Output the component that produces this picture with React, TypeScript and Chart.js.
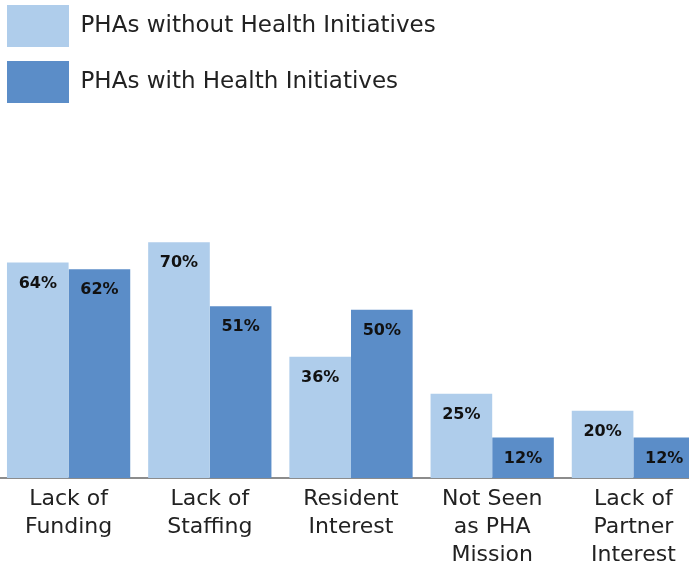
import React, { useEffect, useRef } from "react";
import { Chart, registerables } from "chart.js";

Chart.register(...registerables);

const categories: string[][] = [
  ["Lack of", "Funding"],
  ["Lack of", "Staffing"],
  ["Resident", "Interest"],
  ["Not Seen", "as PHA", "Mission"],
  ["Lack of", "Partner", "Interest"],
];
const seriesNames = ["PHAs without Health Initiatives", "PHAs with Health Initiatives"];
const withoutInitiatives = [64, 70, 36, 25, 20];
const withInitiatives = [62, 51, 50, 12, 12];

const LIGHT = "#AFCDEB";
const DARK = "#5B8DC8";
const FONT = "'DejaVu Sans', sans-serif";

const valueLabels = {
  id: "valueLabels",
  afterDatasetsDraw(chart: any) {
    const ctx = chart.ctx;
    ctx.save();
    ctx.font = "bold 16px " + FONT;
    ctx.fillStyle = "#111111";
    ctx.textAlign = "center";
    ctx.textBaseline = "middle";
    chart.data.datasets.forEach((ds: any, di: number) => {
      const meta = chart.getDatasetMeta(di);
      meta.data.forEach((bar: any, i: number) => {
        ctx.fillText(ds.data[i] + "%", bar.x, bar.y + 21);
      });
    });
    ctx.restore();
  },
};

export default function App() {
  const ref = useRef<HTMLCanvasElement>(null);
  useEffect(() => {
    if (!ref.current) return;
    const chart = new Chart(ref.current, {
      type: "bar",
      data: {
        labels: categories,
        datasets: [
          { label: seriesNames[0], data: withoutInitiatives, backgroundColor: LIGHT, borderWidth: 0 },
          { label: seriesNames[1], data: withInitiatives, backgroundColor: DARK, borderWidth: 0 },
        ],
      },
      options: {
        animation: false,
        responsive: false,
        devicePixelRatio: 1,
        layout: { padding: 0 },
        datasets: { bar: { categoryPercentage: 0.873, barPercentage: 1 } },
        plugins: {
          legend: {
            display: true,
            position: "top",
            align: "start",
            labels: {
              boxWidth: 62,
              boxHeight: 42,
              padding: 14,
              color: "#222222",
              font: { family: FONT, size: 23 },
            },
          },
          tooltip: { enabled: false },
        },
        scales: {
          x: {
            grid: { display: false, drawTicks: false },
            border: { display: true, color: "#8C8C8C", width: 2 },
            ticks: {
              color: "#222222",
              padding: 7,
              maxRotation: 0,
              autoSkip: false,
              font: { family: FONT, size: 22, lineHeight: "28px" },
            },
          },
          y: {
            min: 0,
            max: 108.4,
            grid: { display: false, drawTicks: false },
            border: { display: false },
            ticks: { display: false },
            afterFit: (scale: any) => {
              scale.width = 5;
            },
          },
        },
      },
      plugins: [valueLabels],
    });
    return () => chart.destroy();
  }, []);
  return (
    <div style={{ position: "absolute", left: 0, top: 0, width: 689, height: 565, overflow: "hidden", background: "#fff" }}>
      <canvas
        ref={ref}
        width={711}
        height={585}
        style={{ position: "absolute", left: -7, top: -9, width: 711, height: 585 }}
      />
    </div>
  );
}
